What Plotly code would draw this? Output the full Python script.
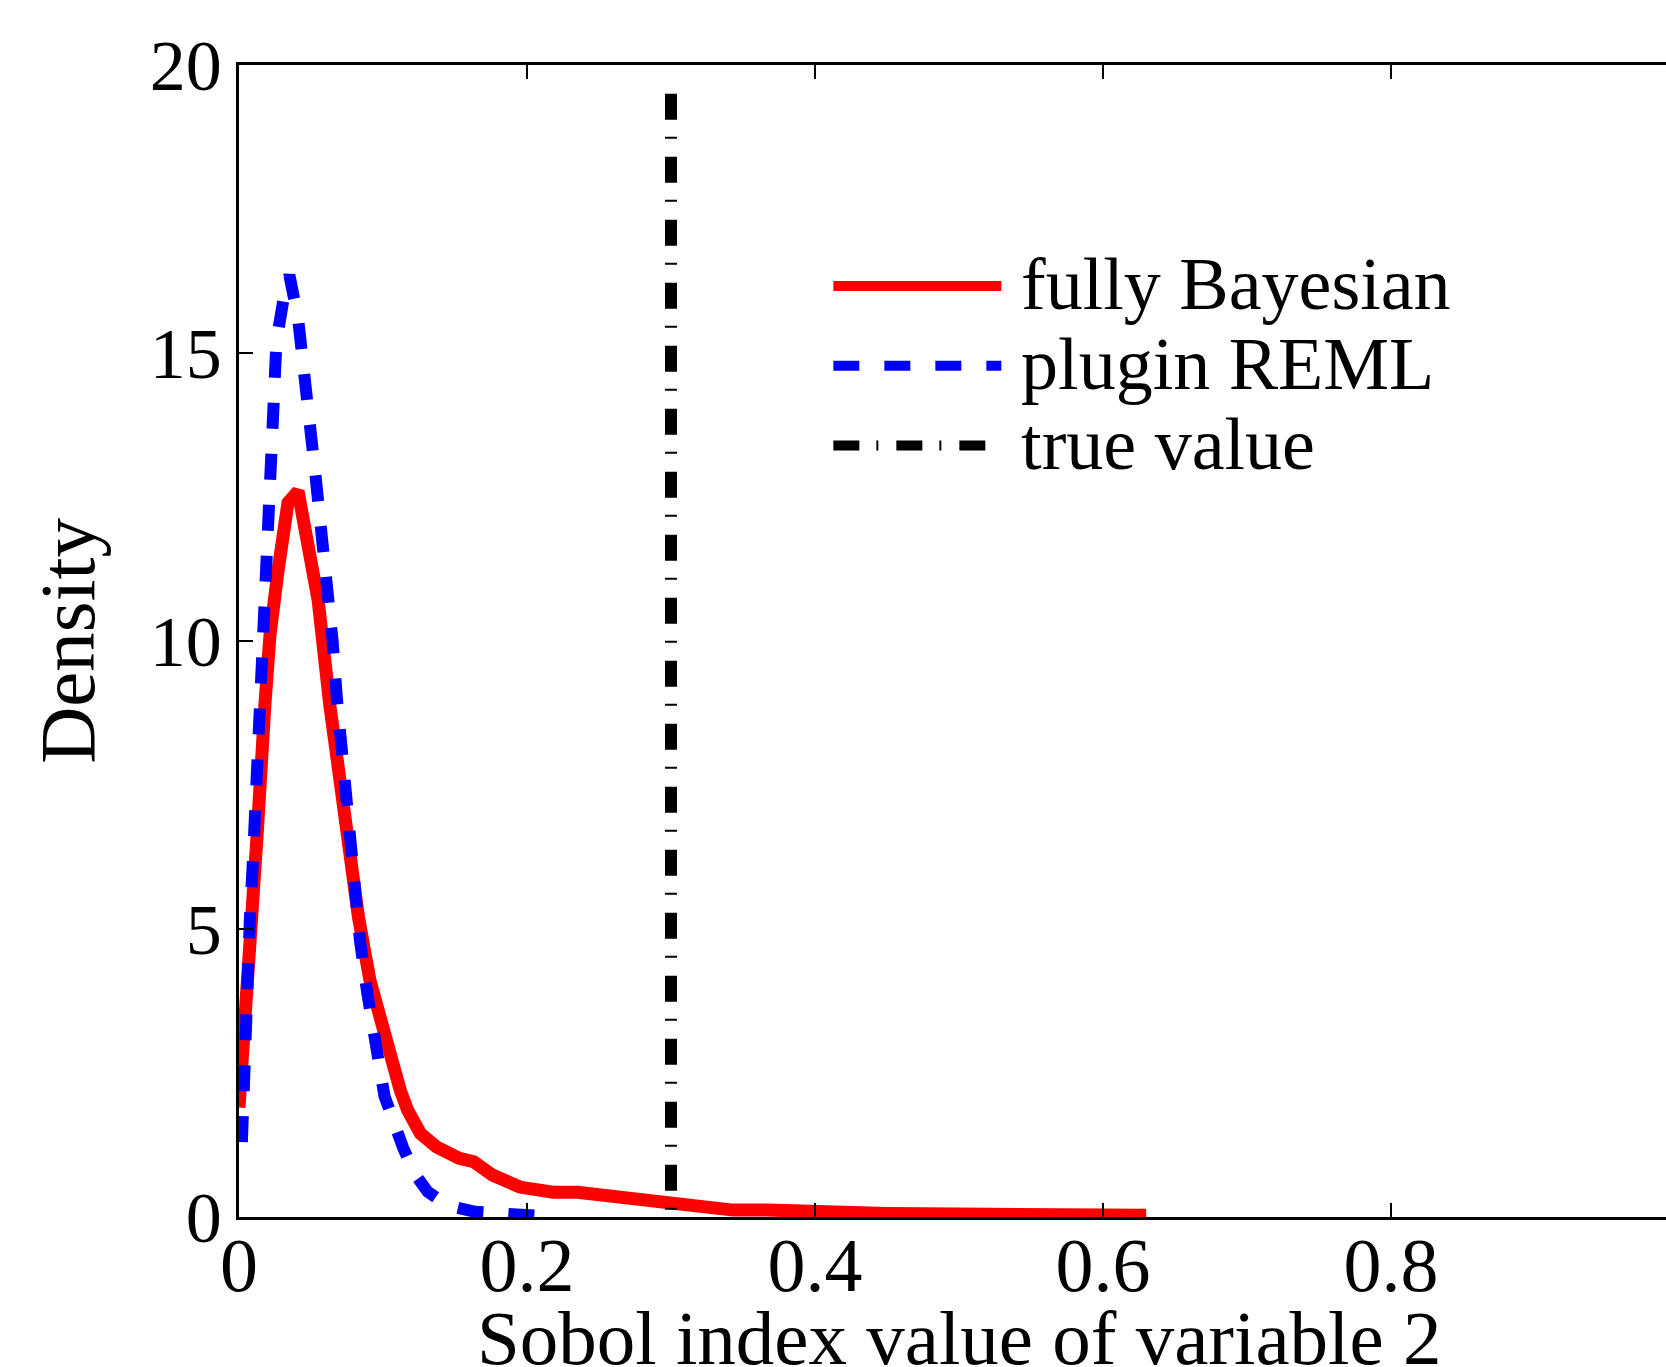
import plotly.graph_objects as go

# fully Bayesian density
bayes_x = [0.0, 0.006, 0.010, 0.0125, 0.018, 0.0215, 0.027, 0.034, 0.041, 0.047,
           0.055, 0.063, 0.072, 0.078, 0.083, 0.091, 0.103, 0.112, 0.117, 0.126,
           0.137, 0.153, 0.163, 0.176, 0.195, 0.218, 0.235, 0.253, 0.276, 0.299,
           0.322, 0.343, 0.367, 0.39, 0.42, 0.45, 0.5, 0.55, 0.6, 0.63]
bayes_y = [1.9, 4.6, 5.8, 6.6, 8.9, 10.1, 11.2, 12.4, 12.6, 11.8,
           10.7, 8.9, 7.2, 6.3, 5.2, 4.1, 2.9, 2.2, 1.86, 1.45,
           1.22, 1.02, 0.96, 0.73, 0.52, 0.43, 0.43, 0.38, 0.30, 0.27,
           0.17, 0.12, 0.12, 0.09, 0.07, 0.06, 0.05, 0.04, 0.04, 0.03]

# plugin REML density
reml_x = [0.002, 0.004, 0.0076, 0.0097, 0.011, 0.0146, 0.017, 0.020, 0.023, 0.026,
          0.032, 0.035, 0.041, 0.046, 0.049, 0.053, 0.057, 0.061, 0.065, 0.068,
          0.071, 0.074, 0.077, 0.080, 0.084, 0.089, 0.094, 0.101, 0.114, 0.122,
          0.131, 0.145, 0.164, 0.18, 0.2, 0.208]
reml_y = [1.3, 3.4, 5.2, 6.2, 7.0, 8.8, 10.6, 12.45, 13.4, 15.2,
          16.1, 16.35, 15.6, 14.7, 13.8, 12.9, 12.0, 11.1, 10.0, 9.0,
          8.1, 7.3, 6.5, 5.7, 4.8, 3.9, 3.0, 2.1, 1.2, 0.75,
          0.44, 0.2, 0.09, 0.05, 0.03, 0.02]

# true value
true_x = [0.3, 0.3]
true_y = [19.5, 0.0]

series_names = ["fully Bayesian", "plugin REML", "true value"]
x_title = "Sobol index value of variable 2"
y_title = "Density"

x_ticks = [0, 0.2, 0.4, 0.6, 0.8]
x_labels = ["0", "0.2", "0.4", "0.6", "0.8"]
y_ticks = [0, 5, 10, 15, 20]
y_labels = ["0", "5", "10", "15", "20"]

FONT = "Liberation Serif"
X_MAX = 1427 / 1440  # right edge of the visible axis window


def legend_label(s):
    return "\u00a0<span style='font-size:74px'>" + s + "</span>"


fig = go.Figure()
fig.add_trace(go.Scatter(x=bayes_x, y=bayes_y, mode="lines", name=legend_label(series_names[0]),
                         line=dict(color="#ff0000", width=13)))
fig.add_trace(go.Scatter(x=reml_x, y=reml_y, mode="lines", name=legend_label(series_names[1]),
                         line=dict(color="#0000ff", width=12, dash="26px,25px")))
fig.add_trace(go.Scatter(x=true_x, y=true_y, mode="lines", name=legend_label(series_names[2]),
                         line=dict(color="#000000", width=12, dash="26px,17px,2px,18px")))

fig.add_annotation(text=x_title, xref="x", yref="paper", x=0.5, y=-0.105,
                   xanchor="center", yanchor="middle", showarrow=False,
                   font=dict(family=FONT, size=77, color="black"))

fig.update_layout(
    width=1666, height=1367,
    margin=dict(l=239, r=0, t=65, b=150, pad=0),
    paper_bgcolor="white", plot_bgcolor="white",
    font=dict(family=FONT, size=68, color="black"),
    showlegend=True,
    legend=dict(x=0.413, y=0.847, xanchor="left", yanchor="top",
                bgcolor="rgba(0,0,0,0)", borderwidth=0,
                font=dict(family=FONT, size=59, color="black"),
                itemwidth=168, tracegroupgap=0),
    xaxis=dict(range=[0, X_MAX], tickvals=x_ticks, ticktext=x_labels,
               ticks="inside", ticklen=14, tickwidth=2, tickcolor="black",
               showline=True, linewidth=2.5, linecolor="black", mirror="allticks",
               showgrid=False, zeroline=False, ticklabelstandoff=-20,
               tickfont=dict(family=FONT, size=76),
               automargin=False),
    yaxis=dict(range=[0, 20], tickvals=y_ticks, ticktext=y_labels,
               ticks="inside", ticklen=14, tickwidth=2, tickcolor="black",
               showline=True, linewidth=2.5, linecolor="black", mirror=False,
               showgrid=False, zeroline=False,
               tickfont=dict(family=FONT, size=72),
               title=dict(text=y_title, font=dict(family=FONT, size=79), standoff=30),
               automargin=False),
)

fig.write_html("out.html")
